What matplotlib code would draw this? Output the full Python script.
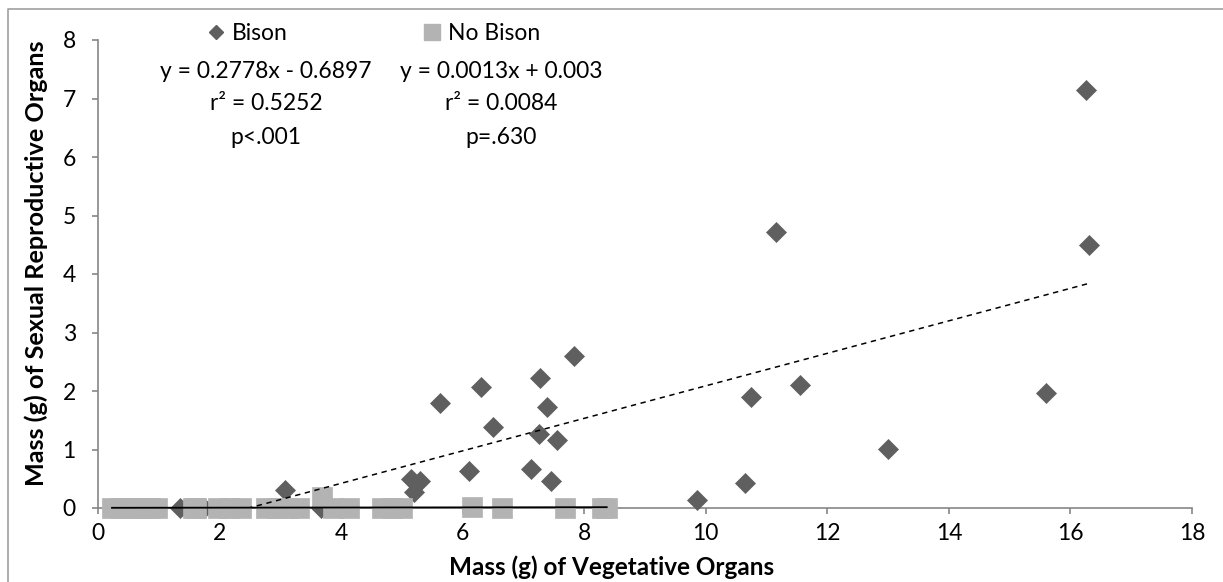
import matplotlib
matplotlib.use("Agg")
import numpy as np
import matplotlib.pyplot as plt
from matplotlib.lines import Line2D

# -----------------------------
# Data
# -----------------------------
bison_x = [16.25, 16.3, 11.15, 15.6, 11.55, 10.75, 13.0, 10.65, 9.85,
           7.83, 7.27, 6.3, 5.62, 7.39, 6.5, 7.25, 7.55, 6.1, 7.12, 7.46,
           5.15, 5.3, 5.2, 3.08, 1.35, 1.75, 3.67]
bison_y = [7.15, 4.5, 4.72, 1.97, 2.1, 1.9, 1.01, 0.42, 0.14,
           2.59, 2.23, 2.07, 1.79, 1.73, 1.38, 1.27, 1.17, 0.64, 0.66, 0.46,
           0.5, 0.46, 0.28, 0.31, 0.0, 0.0, 0.0]

no_bison_x = [0.23, 0.36, 0.5, 0.62, 0.75, 0.86, 0.97,
              1.56, 1.62, 1.97, 2.15, 2.35,
              2.77, 2.95, 3.12, 3.31, 3.69, 3.87, 4.13,
              4.68, 4.84, 5.0, 6.15, 6.64, 7.68, 8.3, 8.37]
no_bison_y = [0, 0, 0, 0, 0, 0, 0,
              0, 0, 0, 0, 0,
              0, 0, 0, 0, 0.19, 0, 0,
              0, 0, 0, 0.02, 0, 0, 0, 0]

# trendline coefficients (slope, intercept) as reported
bison_fit = (0.2778, -0.6897)
no_bison_fit = (0.0013, 0.003)

bison_stats = ["y = 0.2778x - 0.6897", "r² = 0.5252", "p<.001"]
no_bison_stats = ["y = 0.0013x + 0.003", "r² = 0.0084", "p=.630"]

# -----------------------------
# Style
# -----------------------------
FONT = "Lato"
DARK = "#5f5f5f"
LIGHT = "#b3b3b3"
AXIS = "#868686"
W, H = 1223, 582
FS = 16.5

plt.rcParams["font.family"] = [FONT, "DejaVu Sans"]

fig = plt.figure(figsize=(W / 100, H / 100), dpi=100)
ax = fig.add_axes([98 / W, 1 - 508 / H, (1192 - 98) / W, (508 - 40) / H])

# -----------------------------
# Points
# -----------------------------
ax.plot(bison_x, bison_y, linestyle="none", marker="D", ms=10.2,
        mfc=DARK, mec=DARK, mew=0.5, clip_on=False, zorder=3)
ax.plot(no_bison_x, no_bison_y, linestyle="none", marker="s", ms=14.2,
        mfc=LIGHT, mec=LIGHT, mew=0.5, clip_on=False, zorder=4)

# -----------------------------
# Trendlines
# -----------------------------
xb = np.array([min(bison_x), max(bison_x)])
ax.plot(xb, bison_fit[0] * xb + bison_fit[1], color="black", lw=1.1,
        linestyle=(0, (3.5, 3)), zorder=5)
xn = np.array([min(no_bison_x), max(no_bison_x)])
ax.plot(xn, no_bison_fit[0] * xn + no_bison_fit[1], color="black", lw=1.3,
        zorder=5, clip_on=False)

# -----------------------------
# Axes
# -----------------------------
ax.set_xlim(0, 18)
ax.set_ylim(0, 8)
ax.set_xticks(range(0, 19, 2))
ax.set_yticks(range(0, 9))
for side in ("top", "right"):
    ax.spines[side].set_visible(False)
for side in ("left", "bottom"):
    ax.spines[side].set_color(AXIS)
    ax.spines[side].set_linewidth(1.2)
ax.tick_params(direction="out", length=4, width=1.2, color=AXIS,
               labelsize=FS, labelcolor="black")
ax.tick_params(axis="x", pad=7)
ax.tick_params(axis="y", pad=12)

fig.text(612 / W, 1 - 567 / H, "Mass (g) of Vegetative Organs",
         ha="center", va="center", fontsize=17.5, fontweight="bold")
fig.text(36 / W, 1 - 263 / H, "Mass (g) of Sexual Reproductive Organs",
         ha="center", va="center", rotation=90, fontsize=18.2, fontweight="bold")

# -----------------------------
# Legend and fit statistics
# -----------------------------
handles = [Line2D([], [], linestyle="none", marker="D", ms=7.5, mfc=DARK, mec=DARK),
           Line2D([], [], linestyle="none", marker="s", ms=11.5, mfc=LIGHT, mec=LIGHT)]
fig.legend(handles, ["Bison", "No Bison"], loc="center left",
           bbox_to_anchor=(207 / W, 1 - 34 / H), ncol=2, frameon=False,
           fontsize=FS, handlelength=0.8, handletextpad=0.3,
           columnspacing=5.9, borderpad=0, borderaxespad=0)

for i, (a, b) in enumerate(zip(bison_stats, no_bison_stats)):
    yy = 1 - (71 + 33 * i) / H
    fig.text(266 / W, yy, a, ha="center", va="center", fontsize=FS)
    fig.text(501 / W, yy, b, ha="center", va="center", fontsize=FS)

# chart border (left and top edges)
fig.add_artist(Line2D([8 / W, 8 / W, 1], [0, 1 - 9 / H, 1 - 9 / H],
                      transform=fig.transFigure, color="#a0a0a0", lw=1.2))

fig.savefig("out.png", dpi=100)
